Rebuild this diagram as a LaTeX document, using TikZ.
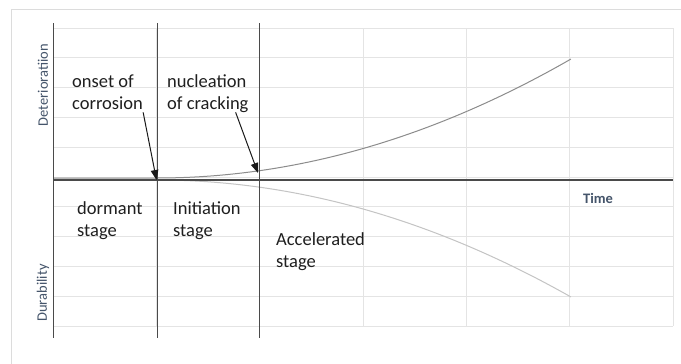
\documentclass[tikz,border=0pt]{standalone}
\usepackage{fontspec}
\setmainfont{Carlito}
\usetikzlibrary{arrows.meta,calc}
\definecolor{framegray}{HTML}{DCDCDC}
\definecolor{gridgray}{HTML}{E4E4E4}
\definecolor{stagegray}{HTML}{4A4A4A}
\definecolor{axistext}{HTML}{44546A}
\definecolor{deterio}{HTML}{8C8C8C}
\definecolor{durab}{HTML}{C4C4C4}
\tikzset{
  frameline/.style={draw=framegray, line width=0.9pt},
  gridline/.style={draw=gridgray, line width=0.9pt},
  stageline/.style={draw=stagegray, line width=1pt},
  axisline/.style={draw=stagegray, line width=1.2pt},
  stagelabel/.style={font=\fontsize{18.5}{22}\selectfont, text=black!88, align=left, inner sep=0pt, anchor=base west},
  axislabel/.style={font=\fontsize{14.5}{17}\selectfont, text=axistext, inner sep=0pt},
  pointer/.style={draw=black!90, line width=1pt, -{Triangle[length=10pt,width=7.5pt]}},
}
\begin{document}
\begin{tikzpicture}[x=1pt,y=-1pt]
\useasboundingbox (0,0) rectangle (681,364);
\fill[white] (0,0) rectangle (681,364);

% outer chart frame
\draw[frameline] (11,364) -- (11,9.5) -- (681,9.5);

% plot-area grid
\foreach \k in {1,...,6}
  \draw[gridline] ({53+103.33*\k},28) -- ({53+103.33*\k},326);
\foreach \j in {0,...,10}
  \draw[gridline] (53,{28+29.8*\j}) -- (673,{28+29.8*\j});

% deterioration and durability curves
\draw[deterio, line width=1pt] (53,178) -- (157,178)
  -- plot[domain=0:1, samples=50] ({157+414*\x},{178-119*\x*\x});
\draw[durab, line width=1pt] (53,180) -- (157,180)
  -- plot[domain=0:1, samples=50] ({157+414*\x},{180+117*\x*\x});

% time axis and stage boundaries
\draw[axisline] (53,180) -- (673,180);
\draw[stageline] (53,23) -- (53,338);
\draw[stageline] (157,23) -- (157,338);
\draw[stageline] (259,23) -- (259,338);

% axis titles
\node[axislabel, rotate=90] (deter) at (43,85) {Deterioratiion};
\node[axislabel, rotate=90] (durab) at (43,293) {Durability};
\node[axislabel, font=\fontsize{14.5}{17}\selectfont\bfseries, anchor=base west] (time) at (583,203) {Time};

% event and stage labels (anchored on the baseline of their last line)
\node[stagelabel] (onset) at (72,109) {onset of\\corrosion};
\node[stagelabel] (nucl) at (167,109) {nucleation\\of cracking};
\node[stagelabel] (dormant) at (77,236) {dormant\\stage};
\node[stagelabel] (initiation) at (173,236) {Initiation\\stage};
\node[stagelabel] (accel) at (276,267) {Accelerated\\stage};

% pointers to the events on the curve
\coordinate (onsetpt) at (156.5,180);
\coordinate (nuclpt) at (258,173);
\draw[pointer] ($(onset.south east)+(0,3)$) -- (onsetpt);
\draw[pointer] ($(nucl.south east)+(-13,0)$) -- (nuclpt);
\end{tikzpicture}
\end{document}
